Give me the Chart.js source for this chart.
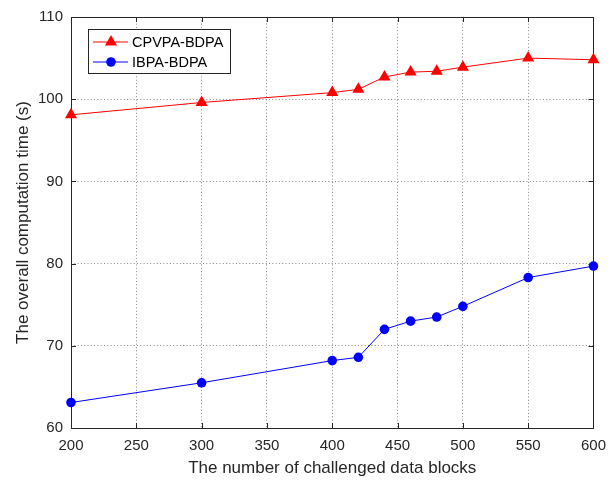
<!DOCTYPE html>
<html>
<head>
<meta charset="utf-8">
<script src="https://cdn.jsdelivr.net/npm/chart.js@4.4.0/dist/chart.umd.min.js"></script>
<style>
  html, body { margin: 0; padding: 0; background: #fff; }
  #wrap { width: 615px; height: 481px; position: relative; }
</style>
</head>
<body>
<div id="wrap"><canvas id="chart" width="615" height="481"></canvas></div>
<script>
// Data
const blocks = [200, 300, 400, 420, 440, 460, 480, 500, 550, 600];
const cpvpaTimes = [98.1, 99.6, 100.8, 101.2, 102.7, 103.3, 103.4, 103.9, 105.0, 104.8];
const ibpaTimes = [63.1, 65.5, 68.2, 68.6, 72.0, 73.0, 73.5, 74.8, 78.3, 79.7];
const xTicks = [200, 250, 300, 350, 400, 450, 500, 550, 600];
const yTicks = [60, 70, 80, 90, 100, 110];

const axisColor = '#262626';
const fontFamily = '"Liberation Sans", Arial, Helvetica, sans-serif';

function toPoints(values) {
    return blocks.map((b, i) => ({ x: b, y: values[i] }));
}

// Box around the plot area with inward tick marks (MATLAB style)
const boxPlugin = {
    id: 'box',
    beforeDatasetsDraw(chart) {
        const { ctx, chartArea: a, scales } = chart;
        ctx.save();
        ctx.strokeStyle = axisColor;
        ctx.lineWidth = 1;
        ctx.beginPath();
        xTicks.forEach(v => {
            const px = Math.round(scales.x.getPixelForValue(v)) + 0.5;
            ctx.moveTo(px, a.bottom); ctx.lineTo(px, a.bottom - 5);
            ctx.moveTo(px, a.top); ctx.lineTo(px, a.top + 5);
        });
        yTicks.forEach(v => {
            const py = Math.round(scales.y.getPixelForValue(v)) + 0.5;
            ctx.moveTo(a.left, py); ctx.lineTo(a.left + 5, py);
            ctx.moveTo(a.right, py); ctx.lineTo(a.right - 5, py);
        });
        ctx.stroke();
        ctx.strokeRect(Math.round(a.left) + 0.5, Math.round(a.top) + 0.5,
            Math.round(a.right - a.left), Math.round(a.bottom - a.top));
        ctx.restore();
    },
    afterDraw(chart) {
        // legend box in the upper left corner
        const { ctx, chartArea: a } = chart;
        const x0 = a.left + 17, y0 = a.top + 12, w = 142, h = 44;
        ctx.save();
        ctx.fillStyle = '#fff';
        ctx.fillRect(x0, y0, w, h);
        ctx.strokeStyle = axisColor;
        ctx.lineWidth = 1;
        ctx.strokeRect(x0 + 0.5, y0 + 0.5, w, h);
        ctx.font = '14.5px ' + fontFamily;
        ctx.textBaseline = 'middle';
        chart.data.datasets.forEach((ds, i) => {
            const cy = y0 + 13 + i * 20;
            ctx.strokeStyle = ds.borderColor;
            ctx.lineWidth = 1;
            ctx.beginPath();
            ctx.moveTo(x0 + 5, cy); ctx.lineTo(x0 + 40, cy);
            ctx.stroke();
            ctx.fillStyle = ds.pointBackgroundColor;
            ctx.beginPath();
            if (ds.pointStyle === 'triangle') {
                const r = ds.pointRadius;
                ctx.moveTo(x0 + 23, cy - r);
                ctx.lineTo(x0 + 23 + r * 0.866, cy + r / 2);
                ctx.lineTo(x0 + 23 - r * 0.866, cy + r / 2);
                ctx.closePath();
            } else {
                ctx.arc(x0 + 23, cy, ds.pointRadius, 0, Math.PI * 2);
            }
            ctx.fill();
            ctx.fillStyle = '#000';
            ctx.fillText(ds.label, x0 + 44, cy + 1);
        });
        ctx.restore();
    }
};

const gridOpts = {
    color: 'rgba(38,38,38,0.55)',
    lineWidth: 1,
    drawTicks: false
};

new Chart(document.getElementById('chart'), {
    type: 'line',
    data: {
        datasets: [
            {
                label: 'CPVPA-BDPA',
                data: toPoints(cpvpaTimes),
                borderColor: '#ff0000',
                backgroundColor: '#ff0000',
                pointBackgroundColor: '#ff0000',
                pointBorderColor: '#ff0000',
                pointStyle: 'triangle',
                pointRadius: 7,
                pointBorderWidth: 0,
                borderWidth: 1,
                tension: 0,
                clip: false
            },
            {
                label: 'IBPA-BDPA',
                data: toPoints(ibpaTimes),
                borderColor: '#0000ff',
                backgroundColor: '#0000ff',
                pointBackgroundColor: '#0000ff',
                pointBorderColor: '#0000ff',
                pointStyle: 'circle',
                pointRadius: 4.8,
                pointBorderWidth: 0,
                borderWidth: 1,
                tension: 0,
                clip: false
            }
        ]
    },
    options: {
        responsive: false,
        animation: false,
        events: [],
        layout: { padding: { top: 16, right: 20, left: 0, bottom: 0 } },
        plugins: {
            legend: { display: false },
            tooltip: { enabled: false }
        },
        scales: {
            x: {
                type: 'linear',
                min: 200,
                max: 600,
                afterBuildTicks: s => { s.ticks = xTicks.map(v => ({ value: v })); },
                afterFit: s => { s.height = 53; },
                grid: gridOpts,
                border: { display: false, dash: [1, 2.3] },
                ticks: {
                    padding: 9,
                    color: axisColor,
                    font: { family: fontFamily, size: 15 },
                    maxRotation: 0
                },
                title: {
                    display: true,
                    text: 'The number of challenged data blocks',
                    color: axisColor,
                    font: { family: fontFamily, size: 17 },
                    padding: { top: 0, bottom: 2 }
                }
            },
            y: {
                type: 'linear',
                min: 60,
                max: 110,
                afterBuildTicks: s => { s.ticks = yTicks.map(v => ({ value: v })); },
                afterFit: s => { s.width = 71; },
                grid: gridOpts,
                border: { display: false, dash: [1, 2.3] },
                ticks: {
                    padding: 8,
                    color: axisColor,
                    font: { family: fontFamily, size: 15 }
                },
                title: {
                    display: true,
                    text: 'The overall computation time (s)',
                    color: axisColor,
                    font: { family: fontFamily, size: 17 },
                    padding: { top: 13, bottom: 0 }
                }
            }
        }
    },
    plugins: [boxPlugin]
});
</script>
</body>
</html>
